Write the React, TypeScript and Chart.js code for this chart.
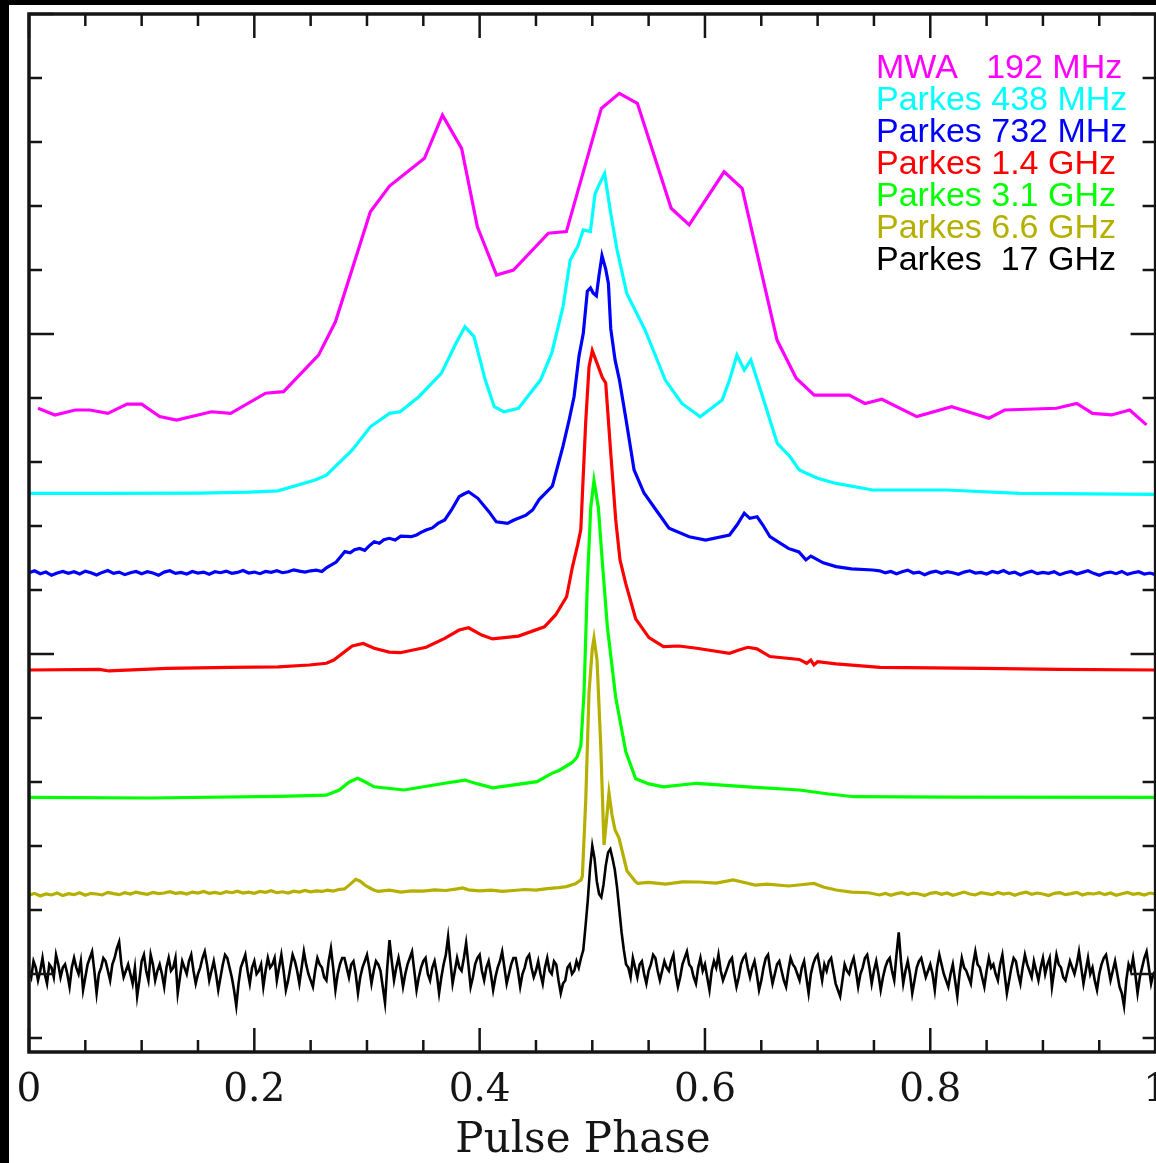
import React, { useEffect, useRef } from "react";
import { Chart, registerables } from "chart.js";

Chart.register(...registerables);

type Pair = [number, number];

// helper: uniformly binned segment of a profile (phase grid only)
const seg = (start: number, step: number, vals: number[]): Pair[] =>
  vals.map((v, i) => [Number((start + i * step).toFixed(4)), v]);

// ---------------- DATA (pulse phase, normalised intensity) ----------------
const xTickLabels = [0, 0.2, 0.4, 0.6, 0.8, 1];

const seriesLabels = [
  "MWA   192 MHz",
  "Parkes 438 MHz",
  "Parkes 732 MHz",
  "Parkes 1.4 GHz",
  "Parkes 3.1 GHz",
  "Parkes 6.6 GHz",
  "Parkes  17 GHz",
];
const seriesColors = ["#ff00ff", "#00ffff", "#0000ff", "#ff0000", "#00ff00", "#b5b000", "#000000"];
const seriesOffsets = [1.75, 1.5, 1.25, 0.95, 0.55, 0.25, 0.0];

const mwa192: Pair[] = [
  [0.008, 0.018], [0.023, -0.003], [0.041, 0.0125], [0.054, 0.0125], [0.07, 0.002], [0.087, 0.031],
  [0.1, 0.031], [0.116, -0.008], [0.131, -0.019], [0.162, 0.007], [0.179, 0.002], [0.21, 0.065],
  [0.226, 0.07], [0.257, 0.184], [0.272, 0.288], [0.303, 0.632], [0.32, 0.7125], [0.351, 0.799],
  [0.367, 0.934], [0.384, 0.83], [0.398, 0.585], [0.415, 0.434], [0.43, 0.45], [0.461, 0.565],
  [0.477, 0.57], [0.508, 0.955], [0.524, 1.002], [0.54, 0.971], [0.57, 0.643], [0.586, 0.591],
  [0.617, 0.757], [0.633, 0.705], [0.664, 0.231], [0.681, 0.112], [0.697, 0.059], [0.728, 0.059],
  [0.742, 0.033], [0.757, 0.046], [0.788, -0.008], [0.819, 0.023], [0.852, -0.013], [0.866, 0.0125],
  [0.912, 0.018], [0.93, 0.033], [0.944, 0.002], [0.961, -0.003], [0.977, 0.0125], [0.992, -0.034],
];

const parkes438: Pair[] = [
  [0, 0.002], [0.0625, 0.002], [0.151, 0.003], [0.196, 0.006], [0.221, 0.01], [0.254, 0.044],
  [0.264, 0.059], [0.287, 0.1375], [0.303, 0.21], [0.32, 0.252], [0.3295, 0.257], [0.346, 0.304],
  [0.366, 0.377], [0.379, 0.471], [0.387, 0.523], [0.395, 0.492], [0.405, 0.356], [0.413, 0.273],
  [0.4215, 0.257], [0.4345, 0.268], [0.454, 0.356], [0.464, 0.44], [0.474, 0.585], [0.4804, 0.731],
  [0.487, 0.773], [0.492, 0.825], [0.4983, 0.82], [0.5024, 0.9375], [0.506, 0.966], [0.5109, 1.0015],
  [0.5166, 0.872], [0.522, 0.7625], [0.5306, 0.627], [0.5468, 0.5125], [0.5648, 0.356], [0.5795, 0.283],
  [0.5958, 0.2415], [0.6153, 0.294], [0.6218, 0.356], [0.6284, 0.434], [0.6349, 0.3875], [0.6407, 0.419],
  [0.6512, 0.304], [0.6642, 0.158], [0.6756, 0.1165], [0.6837, 0.075], [0.7, 0.049], [0.7164, 0.033],
  [0.7489, 0.0125], [0.8141, 0.0125], [0.8793, 0.002], [1.0, -0.001],
];

const parkes732Left = [
  0.004, 0.01, 0.001, 0.006, -0.004, 0.003, 0.008, 0.002, 0.007, 0.0, 0.009, 0.004, -0.003, 0.005,
  0.011, 0.002, 0.006, -0.002, 0.004, 0.008, 0.001, 0.007, 0.003, -0.004, 0.006, 0.01, 0.002, 0.005,
  0.0, 0.008, 0.003, 0.006, -0.001, 0.007, 0.004, 0.009, 0.002, 0.005, 0.011, 0.003, 0.006, 0.001,
  0.008, 0.005, 0.01, 0.004, 0.007, 0.013, 0.009, 0.006, 0.01, 0.012, 0.008,
];
const parkes732Mid: Pair[] = [
  [0.2639, 0.019], [0.2727, 0.0375], [0.2804, 0.07], [0.285, 0.066], [0.289, 0.076], [0.2935, 0.08],
  [0.298, 0.074], [0.302, 0.088], [0.3064, 0.101], [0.311, 0.096], [0.315, 0.107], [0.3197, 0.1115],
  [0.325, 0.106], [0.33, 0.118], [0.3392, 0.1165], [0.344, 0.122], [0.348, 0.13], [0.3525, 0.1375],
  [0.358, 0.144], [0.363, 0.158], [0.369, 0.169], [0.375, 0.2], [0.3818, 0.2415], [0.386, 0.25],
  [0.3902, 0.257], [0.3984, 0.2365], [0.4084, 0.194], [0.4148, 0.163], [0.4247, 0.158], [0.43, 0.168],
  [0.4412, 0.184], [0.447, 0.2], [0.4528, 0.2325], [0.4646, 0.275], [0.4739, 0.398], [0.4794, 0.481],
  [0.4838, 0.554], [0.4882, 0.681], [0.492, 0.752], [0.4956, 0.884], [0.4984, 0.894], [0.5007, 0.878],
  [0.5036, 0.869], [0.506, 0.934], [0.5086, 0.995], [0.5119, 0.953], [0.5143, 0.908], [0.5164, 0.766],
  [0.5202, 0.669], [0.5241, 0.606], [0.53, 0.481], [0.5371, 0.325], [0.5459, 0.253], [0.5566, 0.2],
  [0.5681, 0.143], [0.586, 0.1165], [0.6006, 0.106], [0.6218, 0.122], [0.6284, 0.153], [0.6349, 0.19],
  [0.6398, 0.174], [0.6463, 0.179], [0.6514, 0.153], [0.6577, 0.1165], [0.674, 0.08], [0.6834, 0.069],
  [0.6896, 0.044], [0.694, 0.056], [0.705, 0.035], [0.7164, 0.023], [0.73, 0.016], [0.7489, 0.0125],
];
const parkes732Right = [
  0.01, 0.004, 0.008, 0.001, 0.007, 0.012, 0.003, 0.006, -0.002, 0.005, 0.009, 0.002, 0.007, 0.004,
  -0.001, 0.006, 0.01, 0.003, 0.005, 0.0, 0.008, 0.004, 0.011, 0.002, 0.006, -0.003, 0.004, 0.009,
  0.001, 0.005, 0.002, 0.007, -0.002, 0.004, 0.008, 0.0, 0.005, 0.01, 0.002, -0.004, 0.003, 0.006,
  0.001, 0.008, -0.001, 0.004, 0.007, 0.0, 0.003, -0.002,
];

const parkes1400: Pair[] = [
  [0.001, 0.0], [0.0625, 0.002], [0.071, -0.003], [0.1228, 0.005], [0.178, 0.008], [0.2213, 0.01],
  [0.2488, 0.0156], [0.2639, 0.021], [0.2705, 0.031], [0.2869, 0.075], [0.2967, 0.083], [0.3064, 0.068],
  [0.3197, 0.056], [0.3295, 0.054], [0.3525, 0.071], [0.369, 0.099], [0.3818, 0.125], [0.3902, 0.132],
  [0.4018, 0.109], [0.4115, 0.097], [0.4345, 0.106], [0.4575, 0.135], [0.4674, 0.172], [0.4772, 0.229],
  [0.4823, 0.321], [0.487, 0.391], [0.4898, 0.439], [0.4918, 0.594], [0.4942, 0.778], [0.4971, 0.9475],
  [0.5, 0.998], [0.5045, 0.956], [0.5089, 0.914], [0.5119, 0.897], [0.5164, 0.677], [0.5208, 0.469],
  [0.5246, 0.344], [0.5297, 0.27], [0.5385, 0.16], [0.5503, 0.101], [0.5632, 0.073], [0.5769, 0.075],
  [0.5926, 0.068], [0.6218, 0.052], [0.6302, 0.0625], [0.6381, 0.071], [0.6461, 0.066], [0.6577, 0.042],
  [0.6837, 0.033], [0.6903, 0.021], [0.694, 0.031], [0.6967, 0.016], [0.7, 0.026], [0.7164, 0.019],
  [0.7554, 0.008], [0.8466, 0.005], [0.914, 0.002], [1.0, 0.0],
];

const parkes3100: Pair[] = [
  [0.001, 0.002], [0.107, 0.0], [0.222, 0.005], [0.2639, 0.009], [0.2754, 0.025], [0.2843, 0.05],
  [0.2918, 0.0615], [0.2985, 0.05], [0.3064, 0.035], [0.3329, 0.025], [0.369, 0.046], [0.387, 0.056],
  [0.3984, 0.044], [0.4115, 0.032], [0.451, 0.051], [0.464, 0.077], [0.4705, 0.086], [0.4823, 0.111],
  [0.4865, 0.128], [0.4898, 0.1625], [0.4927, 0.331], [0.4956, 0.67], [0.4986, 0.907], [0.5015, 0.992],
  [0.5054, 0.907], [0.5089, 0.7375], [0.5134, 0.534], [0.5208, 0.314], [0.5297, 0.145], [0.5385, 0.06],
  [0.5503, 0.044], [0.5632, 0.035], [0.5926, 0.046], [0.6381, 0.035], [0.6837, 0.025], [0.71, 0.0125],
  [0.7326, 0.004], [0.8164, 0.003], [1.0, 0.002],
];

const parkes6600Left = [
  -0.004, 0.002, -0.006, 0.0, -0.003, 0.003, -0.005, 0.001, -0.002, 0.004, -0.004, 0.002, 0.0, -0.003,
  0.005, 0.001, -0.002, 0.004, 0.0, 0.006, 0.002, -0.001, 0.005, 0.001, 0.003, 0.007, 0.002, 0.004,
  0.0, 0.006, 0.003, 0.008, 0.002, 0.005, 0.001, 0.007, 0.004, 0.009, 0.003, 0.006, 0.002, 0.008,
  0.005, 0.01, 0.004, 0.007, 0.003, 0.009, 0.006, 0.011, 0.007, 0.01, 0.008, 0.012, 0.009, 0.014, 0.016,
];
const parkes6600Mid: Pair[] = [
  [0.285, 0.03], [0.29, 0.046], [0.294, 0.04], [0.298, 0.028], [0.303, 0.018], [0.306, 0.0125],
  [0.31, 0.008], [0.32, 0.012], [0.33, 0.006], [0.34, 0.01], [0.35, 0.009], [0.36, 0.013], [0.37, 0.011],
  [0.38, 0.016], [0.385, 0.019], [0.39, 0.013], [0.4, 0.01], [0.41, 0.012], [0.42, 0.008], [0.43, 0.011],
  [0.44, 0.014], [0.45, 0.012], [0.46, 0.017], [0.47, 0.02], [0.477, 0.023], [0.485, 0.032], [0.49, 0.044],
  [0.4912, 0.056], [0.4942, 0.294], [0.4971, 0.631], [0.5, 0.767], [0.5015, 0.8], [0.5042, 0.731],
  [0.5075, 0.4625], [0.5104, 0.153], [0.5126, 0.231], [0.5148, 0.316], [0.5175, 0.247], [0.5202, 0.2],
  [0.5237, 0.175], [0.5308, 0.072], [0.5385, 0.038], [0.5404, 0.033], [0.55, 0.036], [0.565, 0.031],
  [0.58, 0.038], [0.5947, 0.0375], [0.61, 0.034], [0.6251, 0.044], [0.635, 0.036], [0.6446, 0.028],
  [0.655, 0.031], [0.6745, 0.025], [0.685, 0.029], [0.6968, 0.033], [0.705, 0.022], [0.7164, 0.0125],
  [0.73, 0.006], [0.745, 0.004],
];
const parkes6600Right = [
  -0.003, 0.002, -0.004, 0.001, 0.004, -0.002, 0.003, 0.0, -0.005, 0.002, 0.005, -0.001, 0.003, -0.004,
  0.001, 0.006, 0.0, -0.003, 0.004, 0.001, -0.002, 0.005, 0.0, 0.003, -0.004, 0.002, 0.006, -0.001,
  0.003, 0.0, -0.005, 0.002, 0.004, -0.002, 0.001, 0.005, -0.003, 0.002, 0.0, 0.004, -0.002, 0.003,
  -0.004, 0.001, 0.005, -0.001, 0.002, -0.003, 0.003, 0.0,
];

// 17 GHz profile, 0.002 phase bins from 0 to 1
const parkes17000 = [
  0.01, -0.01, 0.04, 0.02, -0.02, 0.01, 0.05, 0.0, -0.03, 0.03, 0.02, -0.01, 0.06, 0.03, -0.01, 0.02, 0.03, 0.0, -0.04, 0.02,
  0.05, 0.02, 0.0, 0.04, -0.05, -0.01, 0.03, 0.05, 0.07, 0.01, -0.06, 0.0, 0.02, 0.05, 0.04, 0.01, -0.02, 0.03, 0.05, 0.08,
  0.1, 0.03, -0.01, 0.01, 0.03, 0.0, -0.03, 0.02, -0.07, -0.02, 0.04, 0.06, 0.01, -0.02, 0.06, 0.03, -0.02, 0.01, 0.03, 0.0,
  -0.04, 0.02, 0.05, 0.01, 0.02, 0.05, -0.06, -0.01, 0.04, 0.02, 0.0, 0.04, 0.06, 0.01, -0.03, 0.0, 0.02, 0.05, 0.07, 0.03,
  -0.02, 0.01, 0.04, 0.0, -0.05, -0.01, 0.03, 0.06, 0.05, 0.02, -0.01, -0.05, -0.1, -0.03, 0.02, 0.04, 0.06, 0.01, -0.03, 0.02,
  0.04, 0.0, 0.01, 0.03, -0.04, 0.01, 0.05, 0.02, 0.03, 0.05, -0.02, 0.02, 0.06, 0.01, -0.05, -0.02, 0.02, 0.06, 0.04, 0.01,
  -0.03, 0.02, 0.07, 0.03, 0.0, -0.02, -0.04, 0.01, 0.05, 0.03, 0.02, -0.01, -0.02, 0.04, 0.08, 0.02, -0.05, 0.0, 0.03, 0.05,
  0.05, 0.02, -0.01, 0.03, 0.04, 0.0, -0.06, -0.01, 0.02, 0.04, 0.06, 0.02, -0.03, 0.01, 0.04, 0.03, 0.01, -0.04, -0.09, 0.02,
  0.106, 0.04, -0.02, 0.02, 0.05, 0.01, -0.04, 0.0, 0.03, 0.05, 0.07, 0.01, -0.05, -0.01, 0.02, 0.04, 0.05, 0.0, -0.02, 0.02,
  0.04, 0.0, -0.06, -0.01, 0.03, 0.06, 0.116, 0.04, -0.03, 0.01, 0.05, 0.02, 0.01, 0.05, 0.097, 0.03, -0.04, -0.01, 0.03, 0.05,
  0.06, 0.01, -0.02, 0.02, 0.04, 0.0, -0.05, -0.01, 0.02, 0.04, 0.07, 0.02, -0.03, 0.0, 0.03, 0.05, 0.05, 0.01, -0.04, 0.0,
  0.02, 0.05, 0.06, 0.02, -0.01, 0.01, 0.04, 0.0, -0.03, 0.02, 0.05, 0.01, 0.0, 0.04, 0.03, -0.02, -0.06, -0.03, -0.02, 0.02,
  0.03, 0.0, 0.01, 0.04, 0.02, 0.05, 0.075, 0.15, 0.23, 0.33, 0.4, 0.36, 0.29, 0.25, 0.24, 0.28, 0.34, 0.38, 0.39, 0.36,
  0.325, 0.27, 0.2, 0.13, 0.075, 0.03, 0.02, -0.01, 0.05, 0.02, -0.01, 0.03, 0.04, 0.0, -0.03, 0.01, 0.03, 0.06, 0.05, 0.01,
  -0.02, 0.01, 0.04, 0.02, 0.01, 0.04, 0.06, 0.0, -0.04, -0.01, 0.03, 0.05, 0.07, 0.03, 0.02, -0.01, -0.03, 0.02, 0.05, 0.01,
  0.03, -0.01, -0.05, 0.01, 0.04, 0.02, 0.06, 0.01, -0.02, 0.0, 0.02, 0.04, 0.05, 0.0, -0.04, -0.01, 0.03, 0.05, 0.06, 0.02,
  -0.01, 0.02, 0.04, 0.0, -0.05, -0.02, 0.02, 0.05, 0.06, 0.01, -0.03, 0.0, 0.03, 0.04, 0.01, -0.02, -0.04, 0.01, 0.05, 0.03,
  0.02, 0.0, -0.02, 0.02, 0.04, -0.01, -0.06, 0.0, 0.03, 0.05, 0.06, 0.02, -0.02, 0.03, 0.01, 0.04, 0.05, 0.01, -0.03, -0.05,
  -0.07, -0.02, 0.03, 0.01, 0.0, 0.03, 0.05, 0.01, -0.04, 0.0, 0.02, 0.05, 0.06, 0.02, -0.03, 0.01, 0.04, 0.0, -0.05, -0.01,
  0.02, 0.04, 0.05, 0.01, -0.02, 0.06, 0.13, 0.04, -0.03, 0.01, 0.04, 0.0, -0.06, -0.02, 0.02, 0.04, 0.05, 0.02, -0.01, 0.01,
  0.03, 0.0, -0.05, 0.02, 0.06, 0.03, 0.0, -0.02, -0.04, 0.0, 0.03, -0.02, -0.07, 0.0, 0.05, 0.02, 0.01, -0.01, -0.03, 0.03,
  0.07, 0.03, 0.02, -0.01, -0.04, 0.01, 0.05, 0.02, 0.03, 0.0, -0.02, 0.03, 0.06, 0.0, -0.06, -0.02, 0.02, 0.05, 0.04, 0.0,
  -0.03, 0.02, 0.06, 0.03, 0.01, -0.01, 0.04, 0.01, -0.02, 0.02, 0.05, 0.0, 0.03, 0.05, -0.04, 0.01, 0.06, 0.03, 0.02, -0.01,
  -0.02, 0.01, 0.04, 0.02, 0.0, 0.03, 0.07, 0.02, -0.03, 0.01, 0.05, 0.0, 0.02, -0.02, -0.05, 0.0, 0.03, 0.05, 0.06, 0.02,
  -0.02, 0.01, 0.04, 0.0, -0.04, -0.06, -0.1, -0.02, 0.03, 0.01, 0.05, 0.0, -0.06, -0.01, 0.02, 0.05, 0.07, 0.02, -0.03, 0.0, 0.01,
];

const seriesProfiles: Pair[][] = [
  mwa192,
  parkes438,
  [...seg(0, 0.005, parkes732Left), ...parkes732Mid, ...seg(0.755, 0.005, parkes732Right)],
  parkes1400,
  parkes3100,
  [...seg(0, 0.005, parkes6600Left), ...parkes6600Mid, ...seg(0.755, 0.005, parkes6600Right)],
  seg(0, 0.002, parkes17000),
];
const seriesWidths = [3.2, 3.2, 3.2, 3.2, 3.2, 3.2, 2.6];

// ---------------- PLUGINS ----------------
const bgPlugin = {
  id: "bg",
  beforeDraw(chart: any) {
    const { ctx, width, height } = chart;
    ctx.save();
    ctx.fillStyle = "#000";
    ctx.fillRect(0, 0, width, height);
    ctx.fillStyle = "#fff";
    ctx.fillRect(9, 5, width - 9, height - 5);
    ctx.restore();
  },
};

const framePlugin = {
  id: "frame",
  afterDraw(chart: any) {
    const { ctx, chartArea } = chart;
    const { left, right, top, bottom } = chartArea;
    const xs = chart.scales.x;
    const ys = chart.scales.y;
    ctx.save();
    ctx.strokeStyle = "#151515";
    ctx.lineWidth = 2.5;
    ctx.beginPath();
    for (let i = 0; i <= 20; i++) {
      const v = i * 0.05;
      const px = xs.getPixelForValue(v);
      const len = i % 4 === 0 ? 24 : 12;
      ctx.moveTo(px, bottom);
      ctx.lineTo(px, bottom - len);
      ctx.moveTo(px, top);
      ctx.lineTo(px, top + len);
    }
    for (let i = -1; i <= 15; i++) {
      const v = i * 0.2;
      const py = ys.getPixelForValue(v);
      const len = i % 5 === 0 ? 25 : 13;
      ctx.moveTo(left, py);
      ctx.lineTo(left + len, py);
      ctx.moveTo(right, py);
      ctx.lineTo(right - len, py);
    }
    ctx.stroke();
    ctx.lineWidth = 3.5;
    ctx.strokeRect(left, top, right - left, bottom - top);

    // axis title
    ctx.fillStyle = "#151515";
    ctx.font = "42px 'DejaVu Serif'";
    ctx.textAlign = "center";
    ctx.textBaseline = "alphabetic";
    ctx.fillText("Pulse Phase", 583, 1152);

    // legend text
    ctx.font = "34px 'Liberation Sans'";
    ctx.textAlign = "left";
    seriesLabels.forEach((lab, i) => {
      ctx.fillStyle = seriesColors[i];
      ctx.fillText(lab, 876, 78 + 32 * i);
    });
    ctx.restore();
  },
};

export default function App() {
  const ref = useRef<HTMLCanvasElement>(null);
  useEffect(() => {
    const canvas = ref.current;
    if (!canvas) return;
    const chart = new Chart(canvas, {
      type: "line",
      data: {
        datasets: seriesProfiles.map((pts, i) => ({
          label: seriesLabels[i],
          data: pts.map(([x, v]) => ({ x, y: seriesOffsets[i] + v })),
          borderColor: seriesColors[i],
          borderWidth: seriesWidths[i],
          pointRadius: 0,
          fill: false,
          tension: 0,
        })),
      },
      options: {
        responsive: false,
        animation: false,
        devicePixelRatio: 1,
        layout: { padding: { left: 29, top: 14, right: 12, bottom: 0 } },
        scales: {
          x: {
            type: "linear",
            min: 0,
            max: 1,
            afterFit: (s: any) => {
              s.height = 111;
            },
            grid: { display: false, drawTicks: false },
            border: { display: false },
            afterBuildTicks: (s: any) => {
              s.ticks = xTickLabels.map((v) => ({ value: v }));
            },
            ticks: {
              autoSkip: false,
              maxRotation: 0,
              padding: 15,
              color: "#151515",
              font: { family: "'DejaVu Serif'", size: 39 },
              callback: (v: any) => String(Math.round(Number(v) * 10) / 10),
            },
          },
          y: { type: "linear", display: false, min: -0.24375, max: 3.0 },
        },
        plugins: { legend: { display: false }, tooltip: { enabled: false } },
      },
      plugins: [bgPlugin, framePlugin],
    });
    return () => chart.destroy();
  }, []);
  return (
    <div
      style={{
        position: "absolute",
        left: 0,
        top: 0,
        width: 1156,
        height: 1163,
        overflow: "hidden",
        background: "#000",
      }}
    >
      <canvas ref={ref} width={1183} height={1163} style={{ display: "block" }} />
    </div>
  );
}
